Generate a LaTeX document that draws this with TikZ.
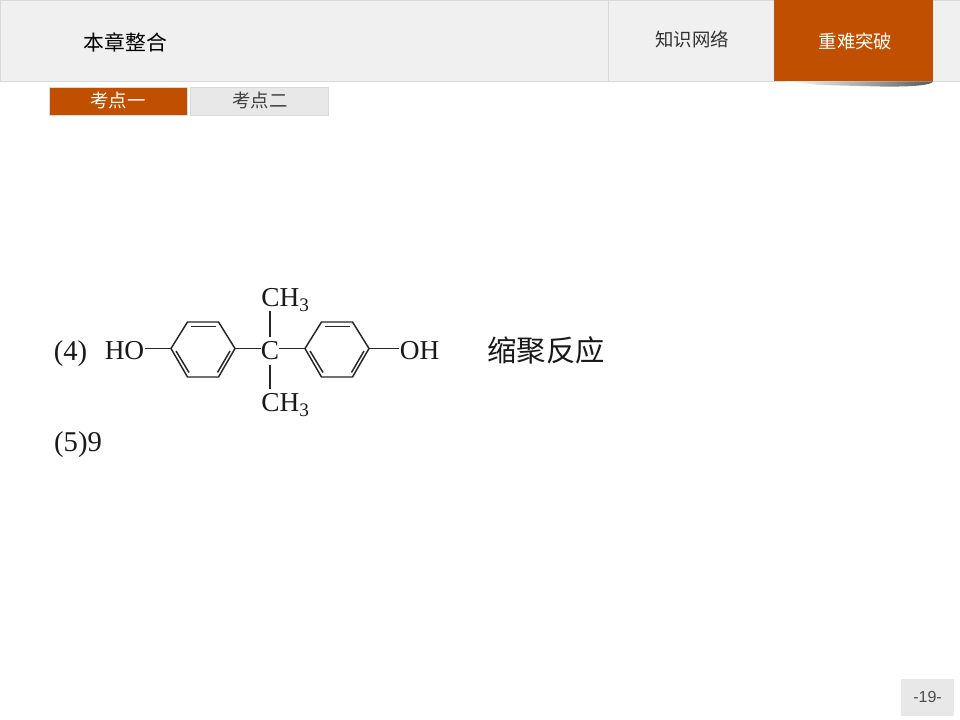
\documentclass[tikz,border=0pt]{standalone}
\usepackage{fontspec}
\setmainfont{Liberation Serif}
\setsansfont{Liberation Sans}
\newfontfamily\cjk{Noto Sans CJK SC}
\usetikzlibrary{positioning,calc}
\definecolor{rust}{HTML}{C04F00}
\definecolor{barfill}{HTML}{F0F0F0}
\definecolor{barline}{HTML}{D9D9D9}
\definecolor{tabfill}{HTML}{E8E8E8}
\tikzset{
	bond/.style={draw=black!85,line width=1.1pt},
	chem/.style={inner sep=0pt,text=black!90,font=\fontsize{20.5}{24}\selectfont},
	head/.style={inner sep=0pt,font=\cjk\fontsize{13.8}{16}\selectfont},
	tabbox/.style={draw=barline,line width=0.75pt},
}
\begin{document}
\begin{tikzpicture}[x=0.75pt,y=-0.75pt]
		\useasboundingbox (0,0) rectangle (960,720);
		%\draw (0,0) grid (960,720);
		% top bar
		\fill[white] (0,0) rectangle (960,720);
		\filldraw[fill=barfill,draw=barline,line width=0.75pt] (0.5,0.5) rectangle (960,81.5);
		\draw[barline,line width=0.75pt] (608.5,0.5) -- (608.5,81.5);
		\shade[left color=white,right color=black!65] (785,81.5) -- (933,81.5) .. controls (931,85) and (915,87) .. (880,86.5) -- (820,85) -- cycle;
		\fill[rust] (774,0) rectangle (933,81.5);
		\node[inner sep=0pt,font=\cjk\fontsize{15.6}{18}\selectfont] (title) at (125.5,42.5) {本章整合};
		\node[head,text=black!80] (knowledge) at (692,39) {知识网络};
		\node[head,text=white] (focus) at (855.5,41.5) {重难突破};
		% tabs
		\filldraw[tabbox,fill=rust] (49.5,87.5) rectangle (187.5,115.5);
		\filldraw[tabbox,fill=tabfill] (190.5,87.5) rectangle (328.5,115.5);
		\node[head,text=white] (tabone) at (118,101) {考点一};
		\node[head,text=black!75] (tabtwo) at (260,101) {考点二};
		% rings
		\foreach \r/\x in {a/203,b/337} {
			\coordinate (\r1) at (\x-32,348.5);
			\coordinate (\r2) at (\x-15.5,322);
			\coordinate (\r3) at (\x+15.5,322);
			\coordinate (\r4) at (\x+32,348.5);
			\coordinate (\r5) at (\x+15.5,377);
			\coordinate (\r6) at (\x-15.5,377);
			\coordinate (\r7) at (\x-12.5,326.5);
			\coordinate (\r8) at (\x+13,326.5);
			\coordinate (\r9) at (\x+14.5,372.5);
			\coordinate (\r10) at (\x+27,351);
			\coordinate (\r11) at (\x-27,351);
			\coordinate (\r12) at (\x-14,372.5);
			\draw[bond] (\r1) -- (\r2) -- (\r3) -- (\r4) -- (\r5) -- (\r6) -- cycle;
			\draw[bond] (\r7) -- (\r8);
			\draw[bond] (\r9) -- (\r10);
			\draw[bond] (\r11) -- (\r12);
		}
		\node[chem] (ho) at (124.5,351) {HO};
		\node[chem] (oh) at (419.5,351) {OH};
		\node[chem,inner ysep=3.5pt] (cc) at (270,351) {C};
		\node[chem] (cha) at (285.5,300) {CH\textsubscript{3}};
		\node[chem] (chb) at (285.5,405) {CH\textsubscript{3}};
		\draw[bond] (ho.east |- a1) -- (a1);
		\draw[bond] (a4) -- (cc.west |- a4);
		\draw[bond] (cc.east |- b1) -- (b1);
		\draw[bond] (b4) -- (oh.west |- b4);
		\draw[bond] (cha.south -| cc) -- (cc);
		\draw[bond,shorten <=3.5pt] (chb.north -| cc) -- (cc);
		\node[chem,font=\fontsize{21.5}{24}\selectfont] (four) at (70.5,353.5) {(4)};
		\node[chem,font=\fontsize{21.5}{24}\selectfont] (five) at (78,444.5) {(5)9};
		\node[inner sep=0pt,text=black!90,font=\cjk\fontsize{22}{26}\selectfont] (reaction) at (546,350) {缩聚反应};
		% page number
		\fill[tabfill] (901,679) rectangle (954,716);
		\node[inner sep=0pt,text=black!70,font=\sffamily\fontsize{12}{14}\selectfont] (page) at (927.5,697) {-19-};
	\end{tikzpicture}
\end{document}
